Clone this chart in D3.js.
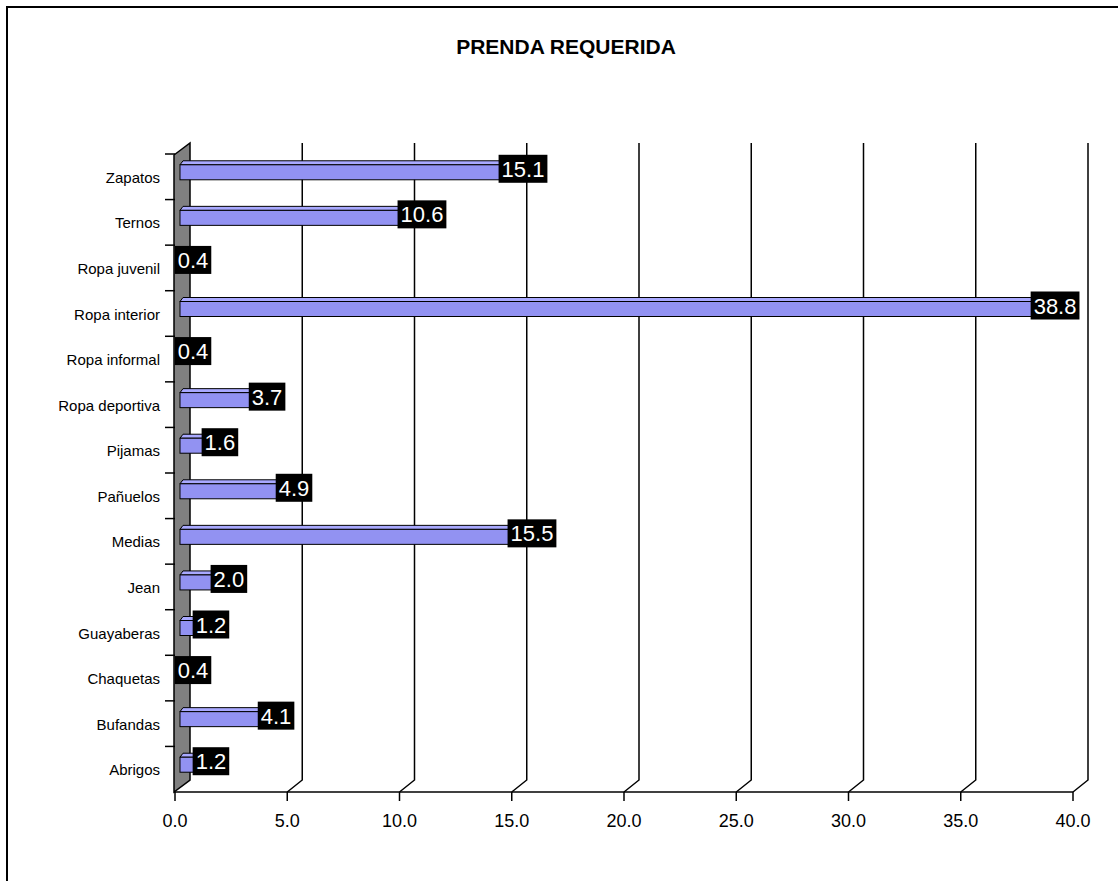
<!DOCTYPE html>
<html>
<head>
<meta charset="utf-8">
<script src="https://cdn.jsdelivr.net/npm/d3@7"></script>
<style>
  html, body { margin: 0; padding: 0; background: #fff; }
  svg { display: block; }
  text { font-family: "Liberation Sans", Arial, sans-serif; }
</style>
</head>
<body>
<script>
// Garment categories (bottom to top) and their percentages
const categories = ["Abrigos", "Bufandas", "Chaquetas", "Guayaberas", "Jean", "Medias", "Pañuelos",
  "Pijamas", "Ropa deportiva", "Ropa informal", "Ropa interior", "Ropa juvenil", "Ternos", "Zapatos"];
const values = [1.2, 4.1, 0.4, 1.2, 2.0, 15.5, 4.9, 1.6, 3.7, 0.4, 38.8, 0.4, 10.6, 15.1];
const xTicks = [0, 5, 10, 15, 20, 25, 30, 35, 40];
const title = "PRENDA REQUERIDA";

const W = 1118, H = 881;
const svg = d3.select("body").append("svg").attr("width", W).attr("height", H);

// outer frame
svg.append("rect").attr("x", 7).attr("y", 7).attr("width", W + 20).attr("height", H + 20)
  .attr("fill", "none").attr("stroke", "#000").attr("stroke-width", 2);

svg.append("text").attr("x", 566).attr("y", 54).attr("text-anchor", "middle")
  .attr("font-size", 21).attr("font-weight", "bold").text(title);

const x = d3.scaleLinear().domain([0, 40]).range([175, 1073]);
const y = d3.scaleBand().domain(categories.slice().reverse()).range([154, 792]).padding(0);

// 3D depth of the plot box
const DX = 15, DY = -12;
const floorY = 792, topY = 143;

const g = svg.append("g");

// back gridlines with their diagonal floor segment
xTicks.filter(t => t > 0).forEach(t => {
  const x0 = x(t);
  g.append("path")
    .attr("d", `M${x0},${floorY}L${x0 + DX},${floorY + DY}L${x0 + DX},${topY}`)
    .attr("fill", "none").attr("stroke", "#000").attr("stroke-width", 1.5);
});

// left side wall
const x0 = x(0);
g.append("path")
  .attr("d", `M${x0 - 1},${y.range()[0] + 1}L${x0 + DX},${topY}L${x0 + DX},${floorY + DY}L${x0 - 1},${floorY}Z`)
  .attr("fill", "#808080").attr("stroke", "#000").attr("stroke-width", 1.5);

// floor front edge
g.append("line").attr("x1", x0 - 1).attr("x2", x(40)).attr("y1", floorY).attr("y2", floorY)
  .attr("stroke", "#000").attr("stroke-width", 1.5);

// bottom axis ticks and labels
xTicks.forEach(t => {
  g.append("line").attr("x1", x(t)).attr("x2", x(t)).attr("y1", floorY).attr("y2", floorY + 9)
    .attr("stroke", "#000").attr("stroke-width", 1.5);
  g.append("text").attr("x", x(t)).attr("y", floorY + 35).attr("text-anchor", "middle")
    .attr("font-size", 18).attr("fill", "#000").text(d3.format(".1f")(t));
});

// category ticks and labels
const bounds = y.domain().map(d => y(d));
bounds.forEach(b => {
  g.append("line").attr("x1", x0 - 10).attr("x2", x0).attr("y1", b).attr("y2", b)
    .attr("stroke", "#000").attr("stroke-width", 1.5);
});
categories.forEach(c => {
  g.append("text").attr("x", 160).attr("y", y(c) + y.bandwidth() / 2 + 6)
    .attr("text-anchor", "end").attr("font-size", 15).attr("fill", "#000").text(c);
});

// bars (3D: front face, top face, end face)
const OX = 5, bdx = 3, bdy = 4;
const bars = g.append("g");
categories.forEach((c, i) => {
  const v = values[i];
  const cy = y(c) + y.bandwidth() / 2;
  const xa = x(0) + OX, xb = x(v) + OX;
  const t = cy - 12, b = cy + 3;
  bars.append("path")
    .attr("d", `M${xa},${t}L${xa + bdx},${t - bdy}L${xb + bdx},${t - bdy}L${xb},${t}Z`)
    .attr("fill", "#A9A9FF").attr("stroke", "#000").attr("stroke-width", 1);
  bars.append("path")
    .attr("d", `M${xb},${t}L${xb + bdx},${t - bdy}L${xb + bdx},${b - bdy}L${xb},${b}Z`)
    .attr("fill", "#6f6fc8").attr("stroke", "#000").attr("stroke-width", 1);
  bars.append("rect").attr("x", xa).attr("y", t).attr("width", Math.max(0, xb - xa)).attr("height", b - t)
    .attr("fill", "#9292F2").attr("stroke", "#000").attr("stroke-width", 1);
});

// value labels: white text on black box
const labels = g.append("g");
categories.forEach((c, i) => {
  const v = values[i];
  const cy = y(c) + y.bandwidth() / 2;
  const cx = x(v) + 9;
  const lg = labels.append("g");
  const box = lg.append("rect").attr("fill", "#000");
  const txt = lg.append("text").attr("x", cx).attr("y", cy).attr("text-anchor", "middle")
    .attr("font-size", 22).attr("fill", "#fff").text(d3.format(".1f")(v));
  const w = txt.node().getComputedTextLength() + 6;
  box.attr("x", cx - w / 2).attr("y", cy - 22).attr("width", w).attr("height", 28);
});
</script>
</body>
</html>
